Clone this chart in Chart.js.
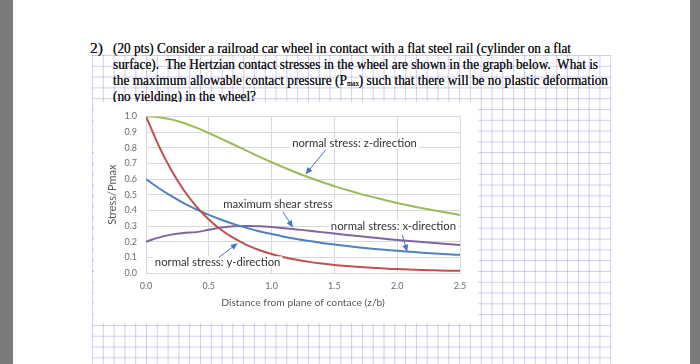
<!DOCTYPE html>
<html>
<head>
<meta charset="utf-8">
<script src="https://cdn.jsdelivr.net/npm/chart.js@4.4.1/dist/chart.umd.min.js"></script>
<style>
  html, body { margin: 0; padding: 0; }
  body { width: 700px; height: 364px; background: #fff; position: relative; overflow: hidden; }
  .bar { position: absolute; top: 0; height: 364px; background: #7b7b7b; }
  #paper {
    position: absolute; left: 92px; top: 55px; width: 519px; height: 309px;
    background-image:
      linear-gradient(to right, rgba(140,140,225,0.42) 1px, transparent 1px),
      linear-gradient(to bottom, rgba(140,140,225,0.42) 1px, transparent 1px);
    background-size: 10.8px 10.8px;
  }
  .line {
    position: absolute; white-space: pre; font-family: "Liberation Serif", "Times New Roman", serif;
    font-size: 15.5px; line-height: 16px; color: #151515; transform-origin: 0 50%;
    text-shadow: 0 0 0.5px #333;
  }
  .line sub { font-size: 8px; vertical-align: -1px; }
  #box { position: absolute; left: 94px; top: 102px; width: 384px; height: 221px; background: #fff; }
</style>
</head>
<body>
<div class="bar" style="left:0;width:13px"></div>
<div class="bar" style="left:690px;width:10px"></div>
<div id="paper"></div>

<div class="line" style="left:90px;top:40px">2)</div>
<div class="line" data-w="458" style="left:113px;top:40px">(20 pts) Consider a railroad car wheel in contact with a flat steel rail (cylinder on a flat</div>
<div class="line" data-w="485" style="left:113px;top:56px">surface).  The Hertzian contact stresses in the wheel are shown in the graph below.  What is</div>
<div class="line" data-w="495" style="left:113px;top:72px">the maximum allowable contact pressure (P<sub>max</sub>) such that there will be no plastic deformation</div>
<div class="line" data-w="143" style="left:113px;top:88px">(no yielding) in the wheel?</div>

<div id="box"><canvas id="stressChart"></canvas></div>

<script>
// fit each text line to the width it has in the scan
document.querySelectorAll(".line[data-w]").forEach(el => {
    const w = el.getBoundingClientRect().width;
    el.style.transform = "scaleX(" + (parseFloat(el.dataset.w) / w) + ")";
});

// ============================
// DATA
// ============================
const distance = [0.0, 0.1, 0.2, 0.3, 0.4, 0.5, 0.6, 0.7, 0.8, 0.9, 1.0, 1.1, 1.2,
                  1.3, 1.4, 1.5, 1.6, 1.7, 1.8, 1.9, 2.0, 2.1, 2.2, 2.3, 2.4, 2.5];

const stressZ = [1.00, 0.995, 0.981, 0.958, 0.928, 0.894, 0.857, 0.819, 0.781, 0.743, 0.707, 0.673, 0.640,
                 0.610, 0.581, 0.555, 0.530, 0.507, 0.486, 0.466, 0.447, 0.430, 0.414, 0.399, 0.385, 0.371];

const stressY = [1.00, 0.815, 0.659, 0.530, 0.426, 0.342, 0.275, 0.222, 0.180, 0.147, 0.121, 0.101, 0.084,
                 0.071, 0.060, 0.051, 0.044, 0.038, 0.033, 0.028, 0.025, 0.022, 0.019, 0.017, 0.015, 0.014];

const stressX = [0.600, 0.543, 0.492, 0.446, 0.406, 0.371, 0.340, 0.312, 0.288, 0.267, 0.249, 0.232, 0.217,
                 0.204, 0.192, 0.182, 0.172, 0.163, 0.155, 0.148, 0.142, 0.136, 0.130, 0.125, 0.120, 0.116];

const maxShear = [0.200, 0.226, 0.245, 0.256, 0.261, 0.276, 0.291, 0.299, 0.300, 0.298, 0.293, 0.286, 0.278,
                  0.270, 0.261, 0.252, 0.243, 0.235, 0.227, 0.219, 0.211, 0.204, 0.198, 0.191, 0.185, 0.179];

const xTicks = [0.0, 0.5, 1.0, 1.5, 2.0, 2.5];

// callout labels: text centre and arrow (tail -> head), in data units
const callouts = [
    { text: "normal stress: z-direction", at: [1.66, 0.83],  from: [1.43, 0.785], to: [1.27, 0.63] },
    { text: "maximum shear stress",       at: [1.05, 0.438], from: [1.09, 0.39],  to: [1.17, 0.29] },
    { text: "normal stress: x-direction", at: [1.97, 0.297], from: [2.04, 0.245], to: [2.08, 0.135] },
    { text: "normal stress: y-direction", at: [0.57, 0.071], from: [0.58, 0.10],  to: [0.73, 0.19] }
];

function pts(ys) {
    return distance.map((d, i) => ({ x: d, y: ys[i] }));
}

// draws the text boxes and blue arrows on top of the lines
const calloutPlugin = {
    id: "callouts",
    afterDatasetsDraw(chart) {
        const ctx = chart.ctx;
        const sx = chart.scales.x, sy = chart.scales.y;
        ctx.save();
        ctx.font = "11.3px Lato, sans-serif";
        ctx.textAlign = "center";
        ctx.textBaseline = "middle";
        callouts.forEach(c => {
            const cx = sx.getPixelForValue(c.at[0]);
            const cy = sy.getPixelForValue(c.at[1]);
            const w = ctx.measureText(c.text).width;
            ctx.fillStyle = "#fff";
            ctx.fillRect(cx - w / 2 - 2, cy - 5.5, w + 4, 11);
            ctx.fillStyle = "#333";
            ctx.fillText(c.text, cx, cy);

            const x1 = sx.getPixelForValue(c.from[0]), y1 = sy.getPixelForValue(c.from[1]);
            const x2 = sx.getPixelForValue(c.to[0]),   y2 = sy.getPixelForValue(c.to[1]);
            const a = Math.atan2(y2 - y1, x2 - x1);
            ctx.strokeStyle = "#4472c4";
            ctx.fillStyle = "#4472c4";
            ctx.lineWidth = 1;
            ctx.beginPath();
            ctx.moveTo(x1, y1);
            ctx.lineTo(x2 - 5 * Math.cos(a), y2 - 5 * Math.sin(a));
            ctx.stroke();
            ctx.beginPath();
            ctx.moveTo(x2, y2);
            ctx.lineTo(x2 - 7 * Math.cos(a) + 3 * Math.sin(a), y2 - 7 * Math.sin(a) - 3 * Math.cos(a));
            ctx.lineTo(x2 - 7 * Math.cos(a) - 3 * Math.sin(a), y2 - 7 * Math.sin(a) + 3 * Math.cos(a));
            ctx.closePath();
            ctx.fill();
        });
        ctx.restore();
    }
};

const tickFont = { family: "Lato, sans-serif", size: 9 };

new Chart(document.getElementById("stressChart").getContext("2d"), {
    type: "line",
    data: {
        datasets: [
            { label: "normal stress: z-direction", data: pts(stressZ), borderColor: "#9bbb59" },
            { label: "normal stress: y-direction", data: pts(stressY), borderColor: "#c0504d" },
            { label: "normal stress: x-direction", data: pts(stressX), borderColor: "#4f81bd" },
            { label: "maximum shear stress",       data: pts(maxShear), borderColor: "#8064a2" }
        ]
    },
    options: {
        responsive: true,
        maintainAspectRatio: false,
        animation: false,
        datasets: {
            line: { borderWidth: 2, pointRadius: 0, cubicInterpolationMode: "monotone", fill: false }
        },
        layout: { padding: { top: 12, right: 18, left: 0, bottom: 0 } },
        scales: {
            x: {
                type: "linear", min: 0, max: 2.5,
                afterBuildTicks: s => { s.ticks = xTicks.map(v => ({ value: v })); },
                afterFit: s => { s.height = 50; },
                ticks: { font: tickFont, color: "#6b6b6b", padding: 8, callback: v => v.toFixed(1) },
                grid: { color: "#d9d9d9", drawTicks: false },
                border: { color: "#d9d9d9" },
                title: { display: true, text: "Distance from plane of contace (z/b)", color: "#595959",
                         font: { family: "Lato, sans-serif", size: 10.3 }, padding: { top: 0, bottom: 14 } }
            },
            y: {
                min: 0, max: 1,
                afterFit: s => { s.width = 52; },
                ticks: { stepSize: 0.1, font: tickFont, color: "#6b6b6b", padding: 9, callback: v => v.toFixed(1) },
                grid: { color: "#d9d9d9", drawTicks: false },
                border: { color: "#d9d9d9" },
                title: { display: true, text: "Stress/Pmax", color: "#595959",
                         font: { family: "Lato, sans-serif", size: 11 }, padding: { top: 12, bottom: 0 } }
            }
        },
        plugins: {
            legend: { display: false },
            tooltip: { enabled: false }
        }
    },
    plugins: [calloutPlugin]
});
</script>
</body>
</html>
